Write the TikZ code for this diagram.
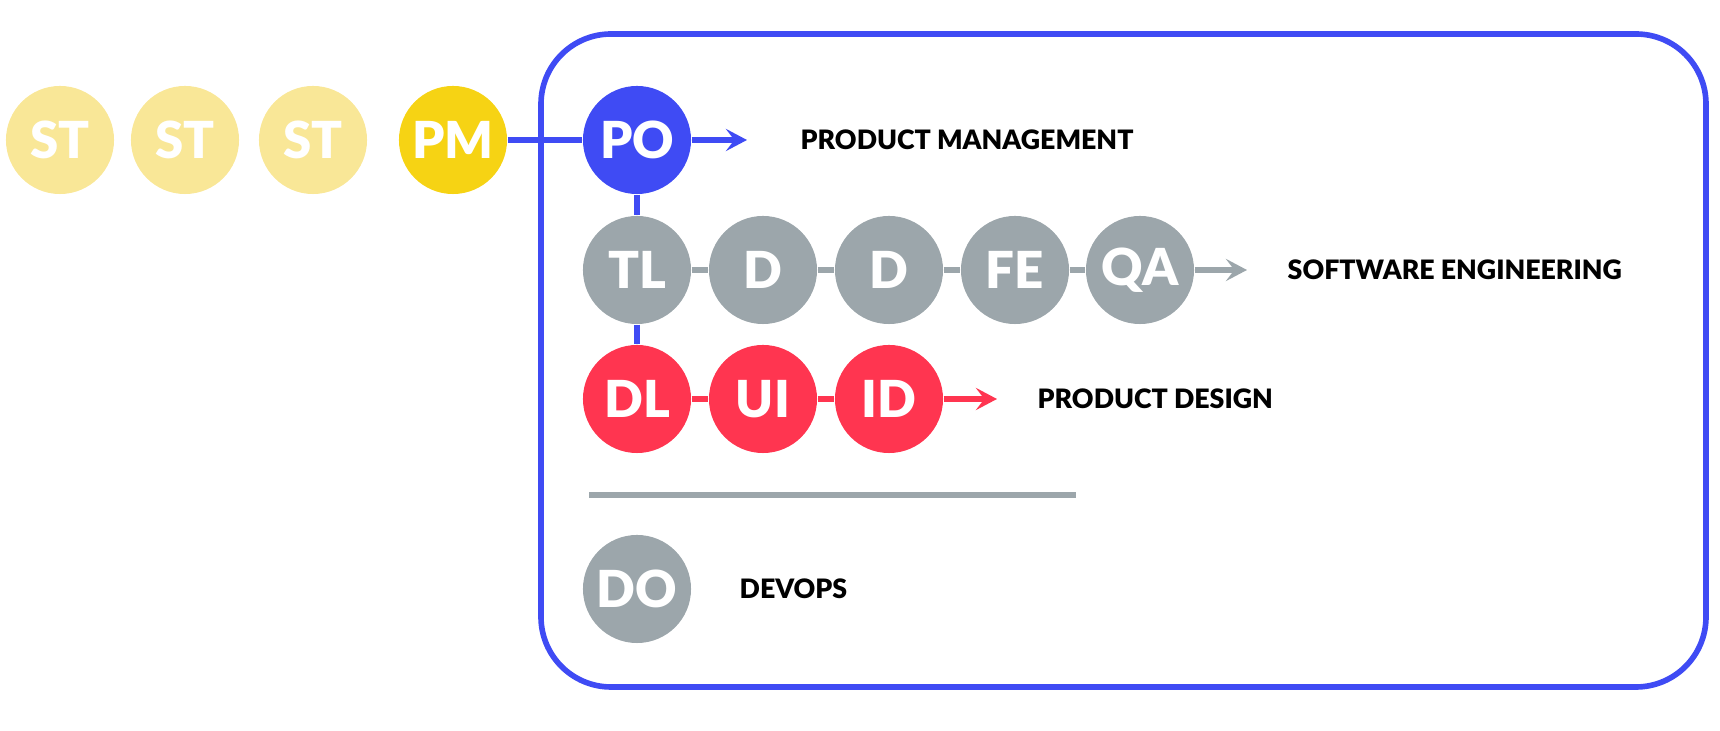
\documentclass[tikz,border=0pt]{standalone}
\usepackage{fontspec}
\setmainfont{Lato}[BoldFont={Lato Black}]
\usetikzlibrary{arrows.meta}

\definecolor{stYellow}{HTML}{F9E797}
\definecolor{pmYellow}{HTML}{F6D314}
\definecolor{poBlue}{HTML}{3F4BF4}
\definecolor{engGray}{HTML}{9CA6AB}
\definecolor{dsgRed}{HTML}{FF3550}

\begin{document}
\begin{tikzpicture}[
    x=0.01cm, y=-0.01cm,
    role/.style={circle, minimum size=1.08cm, inner sep=0pt, text=white,
      font=\fontsize{14.5}{14.5}\selectfont\bfseries},
    team/.style={anchor=west, inner sep=0pt, font=\fontsize{7.6}{8}\selectfont\bfseries},
    link/.style={line width=1.8pt},
    flow/.style={link, -{Stealth[length=6pt, width=6.3pt, inset=2.4pt]}}
    ]
    \useasboundingbox (0,0) rectangle (1720,731);

    % squad frame
    \draw[poBlue, line width=1.6pt, rounded corners=0.7cm] (541,34) rectangle (1706,687);

    % stakeholders and product manager
    \node[role, fill=stYellow] (st1) at (60, 140) {ST};
    \node[role, fill=stYellow] (st2) at (185, 140) {ST};
    \node[role, fill=stYellow] (st3) at (313, 140) {ST};
    \node[role, fill=pmYellow] (pm) at (453, 140) {PM};

    % product management
    \node[role, fill=poBlue] (po) at (637, 140) {PO};
    \coordinate (poend) at (747, 140);
    \node[team] (pmlabel) at (800, 140) {PRODUCT MANAGEMENT};

    % software engineering
    \node[role, fill=engGray] (tl) at (637, 270) {TL};
    \node[role, fill=engGray] (d1) at (763, 270) {D};
    \node[role, fill=engGray] (d2) at (889, 270) {D};
    \node[role, fill=engGray] (fe) at (1015, 270) {FE};
    \node[role, fill=engGray] (qa) at (1140, 270) {QA};
    \coordinate (seend) at (1247, 270);
    \node[team] (selabel) at (1287, 270) {SOFTWARE ENGINEERING};

    % product design
    \node[role, fill=dsgRed] (dl) at (637, 399) {DL};
    \node[role, fill=dsgRed] (ui) at (763, 399) {UI};
    \node[role, fill=dsgRed] (id) at (889, 399) {ID};
    \coordinate (pdend) at (997, 399);
    \node[team] (pdlabel) at (1037, 399) {PRODUCT DESIGN};

    % devops
    \coordinate (sepl) at (589, 495);
    \coordinate (sepr) at (1076, 495);
    \node[role, fill=engGray] (do) at (637, 589) {DO};
    \node[team] (dolabel) at (739, 589) {DEVOPS};

    \draw[link, poBlue] (pm) -- (po);
    \draw[link, poBlue] (po) -- (tl);
    \draw[link, poBlue] (tl) -- (dl);
    \draw[flow, poBlue] (po) -- (poend);

    \draw[link, engGray] (tl) -- (d1);
    \draw[link, engGray] (d1) -- (d2);
    \draw[link, engGray] (d2) -- (fe);
    \draw[link, engGray] (fe) -- (qa);
    \draw[flow, engGray] (qa) -- (seend);

    \draw[link, dsgRed] (dl) -- (ui);
    \draw[link, dsgRed] (ui) -- (id);
    \draw[flow, dsgRed] (id) -- (pdend);

    \draw[engGray, line width=1.6pt] (sepl) -- (sepr);

\end{tikzpicture}
\end{document}
